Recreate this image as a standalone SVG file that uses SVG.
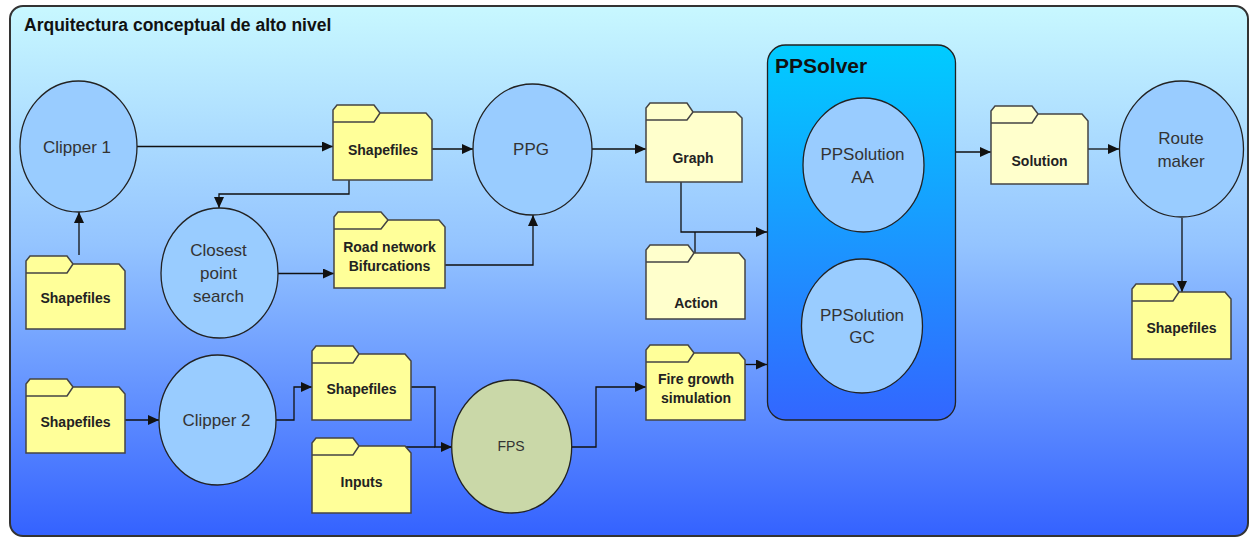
<svg xmlns="http://www.w3.org/2000/svg" width="1251" height="538" viewBox="0 0 1251 538">
<defs>
<linearGradient id="bg" x1="0" y1="0" x2="0" y2="1">
<stop offset="0" stop-color="#c8f8ff"/>
<stop offset="0.45" stop-color="#94c4ff"/>
<stop offset="1" stop-color="#3462ff"/>
</linearGradient>
<linearGradient id="solver" x1="0" y1="0" x2="0" y2="1">
<stop offset="0" stop-color="#00ccff"/>
<stop offset="1" stop-color="#3366ff"/>
</linearGradient>
<marker id="arr" markerUnits="userSpaceOnUse" markerWidth="12" markerHeight="10" refX="11" refY="5" orient="auto">
<path d="M0,0 L11,5 L0,10 Z" fill="#111"/>
</marker>
<style>
.frame{fill:url(#bg);stroke:#333;stroke-width:2}
.circ{fill:#99ccff;stroke:#222;stroke-width:1.3}
.fps{fill:#cad8a8;stroke:#222;stroke-width:1.3}
.fy{fill:#ffff99;stroke:#444;stroke-width:1.5}
.fl{fill:#ffffcc;stroke:#444;stroke-width:1.5}
.inner{fill:none;stroke:#444;stroke-width:1.5}
.con{fill:none;stroke:#111;stroke-width:1.3}
.ft{font-family:"Liberation Sans",Arial,sans-serif;font-weight:bold;font-size:14px;fill:#222;text-anchor:middle}
.ct{font-family:"Liberation Sans",Arial,sans-serif;font-size:17px;fill:#333;text-anchor:middle}
.small{font-size:14px}
</style>
</defs>

<rect class="frame" x="10" y="6" width="1238" height="530" rx="13"/>
<text x="24" y="31" font-family="'Liberation Sans',Arial,sans-serif" font-weight="bold" font-size="17.5" fill="#111">Arquitectura conceptual de alto nivel</text>

<g id="ppsolver">
<rect x="767.5" y="45" width="188" height="375" rx="18" fill="url(#solver)" stroke="#222" stroke-width="1.3"/>
<text x="775" y="73" font-family="'Liberation Sans',Arial,sans-serif" font-weight="bold" font-size="21" fill="#111">PPSolver</text>
</g>

<g id="connectors">
<path class="con" d="M137,146.5 L333,146.5" marker-end="url(#arr)"/>
<path class="con" d="M349,180 L349,194 L219,194 L219,208" marker-end="url(#arr)"/>
<path class="con" d="M79,255 L79,212" marker-end="url(#arr)"/>
<path class="con" d="M278,273.5 L334,273.5" marker-end="url(#arr)"/>
<path class="con" d="M432,265 L533,265 L533,215" marker-end="url(#arr)"/>
<path class="con" d="M432,149 L473,149" marker-end="url(#arr)"/>
<path class="con" d="M592,149 L646,149" marker-end="url(#arr)"/>
<path class="con" d="M681,182 L681,232 L767,232" marker-end="url(#arr)"/>
<path class="con" d="M695,253 L695,232"/>
<path class="con" d="M125,420 L159,420" marker-end="url(#arr)"/>
<path class="con" d="M276,420 L294,420 L294,387 L312,387" marker-end="url(#arr)"/>
<path class="con" d="M411,387 L435,387 L435,447 L452,447" marker-end="url(#arr)"/>
<path class="con" d="M401,447 L435,447"/>
<path class="con" d="M572,447 L596,447 L596,387 L646,387" marker-end="url(#arr)"/>
<path class="con" d="M745,364.5 L767,364.5" marker-end="url(#arr)"/>
<path class="con" d="M956,152 L991,152" marker-end="url(#arr)"/>
<path class="con" d="M1088,149 L1119,149" marker-end="url(#arr)"/>
<path class="con" d="M1182,218 L1182,292" marker-end="url(#arr)"/>
</g>

<g id="clipper1">
<ellipse class="circ" cx="78.5" cy="146.5" rx="58.5" ry="65.5"/>
<text class="ct" x="77" y="152.5">Clipper 1</text>
</g>
<g id="closest">
<ellipse class="circ" cx="219.5" cy="273" rx="58.5" ry="65"/>
<text class="ct" x="218.5" y="255.5">Closest</text>
<text class="ct" x="218.5" y="278.5">point</text>
<text class="ct" x="218.5" y="301.5">search</text>
</g>
<g id="ppg">
<ellipse class="circ" cx="532.5" cy="149.5" rx="59.5" ry="65.5"/>
<text class="ct" x="531" y="155">PPG</text>
</g>
<g id="clipper2">
<ellipse class="circ" cx="217.5" cy="420" rx="58.5" ry="65"/>
<text class="ct" x="216.5" y="426">Clipper 2</text>
</g>
<g id="fps">
<ellipse class="fps" cx="511.7" cy="446.5" rx="60" ry="66.5"/>
<text class="ct small" x="511" y="450.5">FPS</text>
</g>
<g id="ppsolutionAA">
<ellipse class="circ" cx="863.5" cy="165" rx="60.5" ry="67"/>
<text class="ct" x="862.5" y="159.5">PPSolution</text>
<text class="ct" x="862.5" y="183">AA</text>
</g>
<g id="ppsolutionGC">
<ellipse class="circ" cx="862" cy="326" rx="60.5" ry="67"/>
<text class="ct" x="862" y="320.5">PPSolution</text>
<text class="ct" x="862" y="343">GC</text>
</g>
<g id="routemaker">
<ellipse class="circ" cx="1181.5" cy="149" rx="62" ry="68"/>
<text class="ct" x="1181" y="143.5">Route</text>
<text class="ct" x="1181" y="166.5">maker</text>
</g>

<g id="shapefiles1">
<path class="fy" d="M333,180 L333,110 L337,105 L374,105 L380,113 L426,113 L432,120 L432,180 Z"/>
<path class="inner" d="M333,122 L374,122 L380,113"/>
<text class="ft" x="383" y="155">Shapefiles</text>
</g>
<g id="shapefiles2">
<path class="fy" d="M26,329 L26,261 L30,256 L67,256 L73,264 L119,264 L125,271 L125,329 Z"/>
<path class="inner" d="M26,273 L67,273 L73,264"/>
<text class="ft" x="75.5" y="303">Shapefiles</text>
</g>
<g id="roadnetwork">
<path class="fy" d="M334,288 L334,217 L338,212 L381,212 L388,220 L439,220 L445,227 L445,288 Z"/>
<path class="inner" d="M334,229 L381,229 L388,220"/>
<text class="ft" x="389.5" y="251.5">Road network</text>
<text class="ft" x="389.5" y="270.5">Bifurcations</text>
</g>
<g id="shapefiles3">
<path class="fy" d="M26,453 L26,384 L30,379 L67,379 L73,387 L119,387 L125,394 L125,453 Z"/>
<path class="inner" d="M26,396 L67,396 L73,387"/>
<text class="ft" x="75.5" y="426.5">Shapefiles</text>
</g>
<g id="shapefiles4">
<path class="fy" d="M312,420 L312,351 L316,346 L353,346 L359,354 L405,354 L411,361 L411,420 Z"/>
<path class="inner" d="M312,363 L353,363 L359,354"/>
<text class="ft" x="361.5" y="394">Shapefiles</text>
</g>
<g id="inputs">
<path class="fy" d="M312,513 L312,443 L316,438 L353,438 L359,446 L405,446 L411,453 L411,513 Z"/>
<path class="inner" d="M312,455 L353,455 L359,446"/>
<text class="ft" x="361.5" y="486.5">Inputs</text>
</g>
<g id="graph">
<path class="fl" d="M646,182 L646,108 L650,103 L687,103 L693,112 L736,112 L742,118 L742,182 Z"/>
<path class="inner" d="M646,120 L687,120 L693,112"/>
<text class="ft" x="693" y="163">Graph</text>
</g>
<g id="action">
<path class="fl" d="M646,319 L646,250 L650,245 L688,245 L694,253 L739,253 L745,260 L745,319 Z"/>
<path class="inner" d="M646,262 L688,262 L694,253"/>
<text class="ft" x="696" y="308">Action</text>
</g>
<g id="firegrowth">
<path class="fy" d="M646,420 L646,350 L650,345 L688,345 L694,353 L739,353 L745,360 L745,420 Z"/>
<path class="inner" d="M646,362 L688,362 L694,353"/>
<text class="ft" x="696" y="384">Fire growth</text>
<text class="ft" x="696" y="403">simulation</text>
</g>
<g id="solution">
<path class="fl" d="M991,184 L991,111 L995,106 L1032,106 L1038,114 L1082,114 L1088,121 L1088,184 Z"/>
<path class="inner" d="M991,123 L1032,123 L1038,114"/>
<text class="ft" x="1039.5" y="165.5">Solution</text>
</g>
<g id="shapefiles5">
<path class="fy" d="M1132,359 L1132,289 L1136,284 L1173,284 L1179,292 L1225,292 L1231,299 L1231,359 Z"/>
<path class="inner" d="M1132,301 L1173,301 L1179,292"/>
<text class="ft" x="1181.5" y="332.5">Shapefiles</text>
</g>
</svg>
